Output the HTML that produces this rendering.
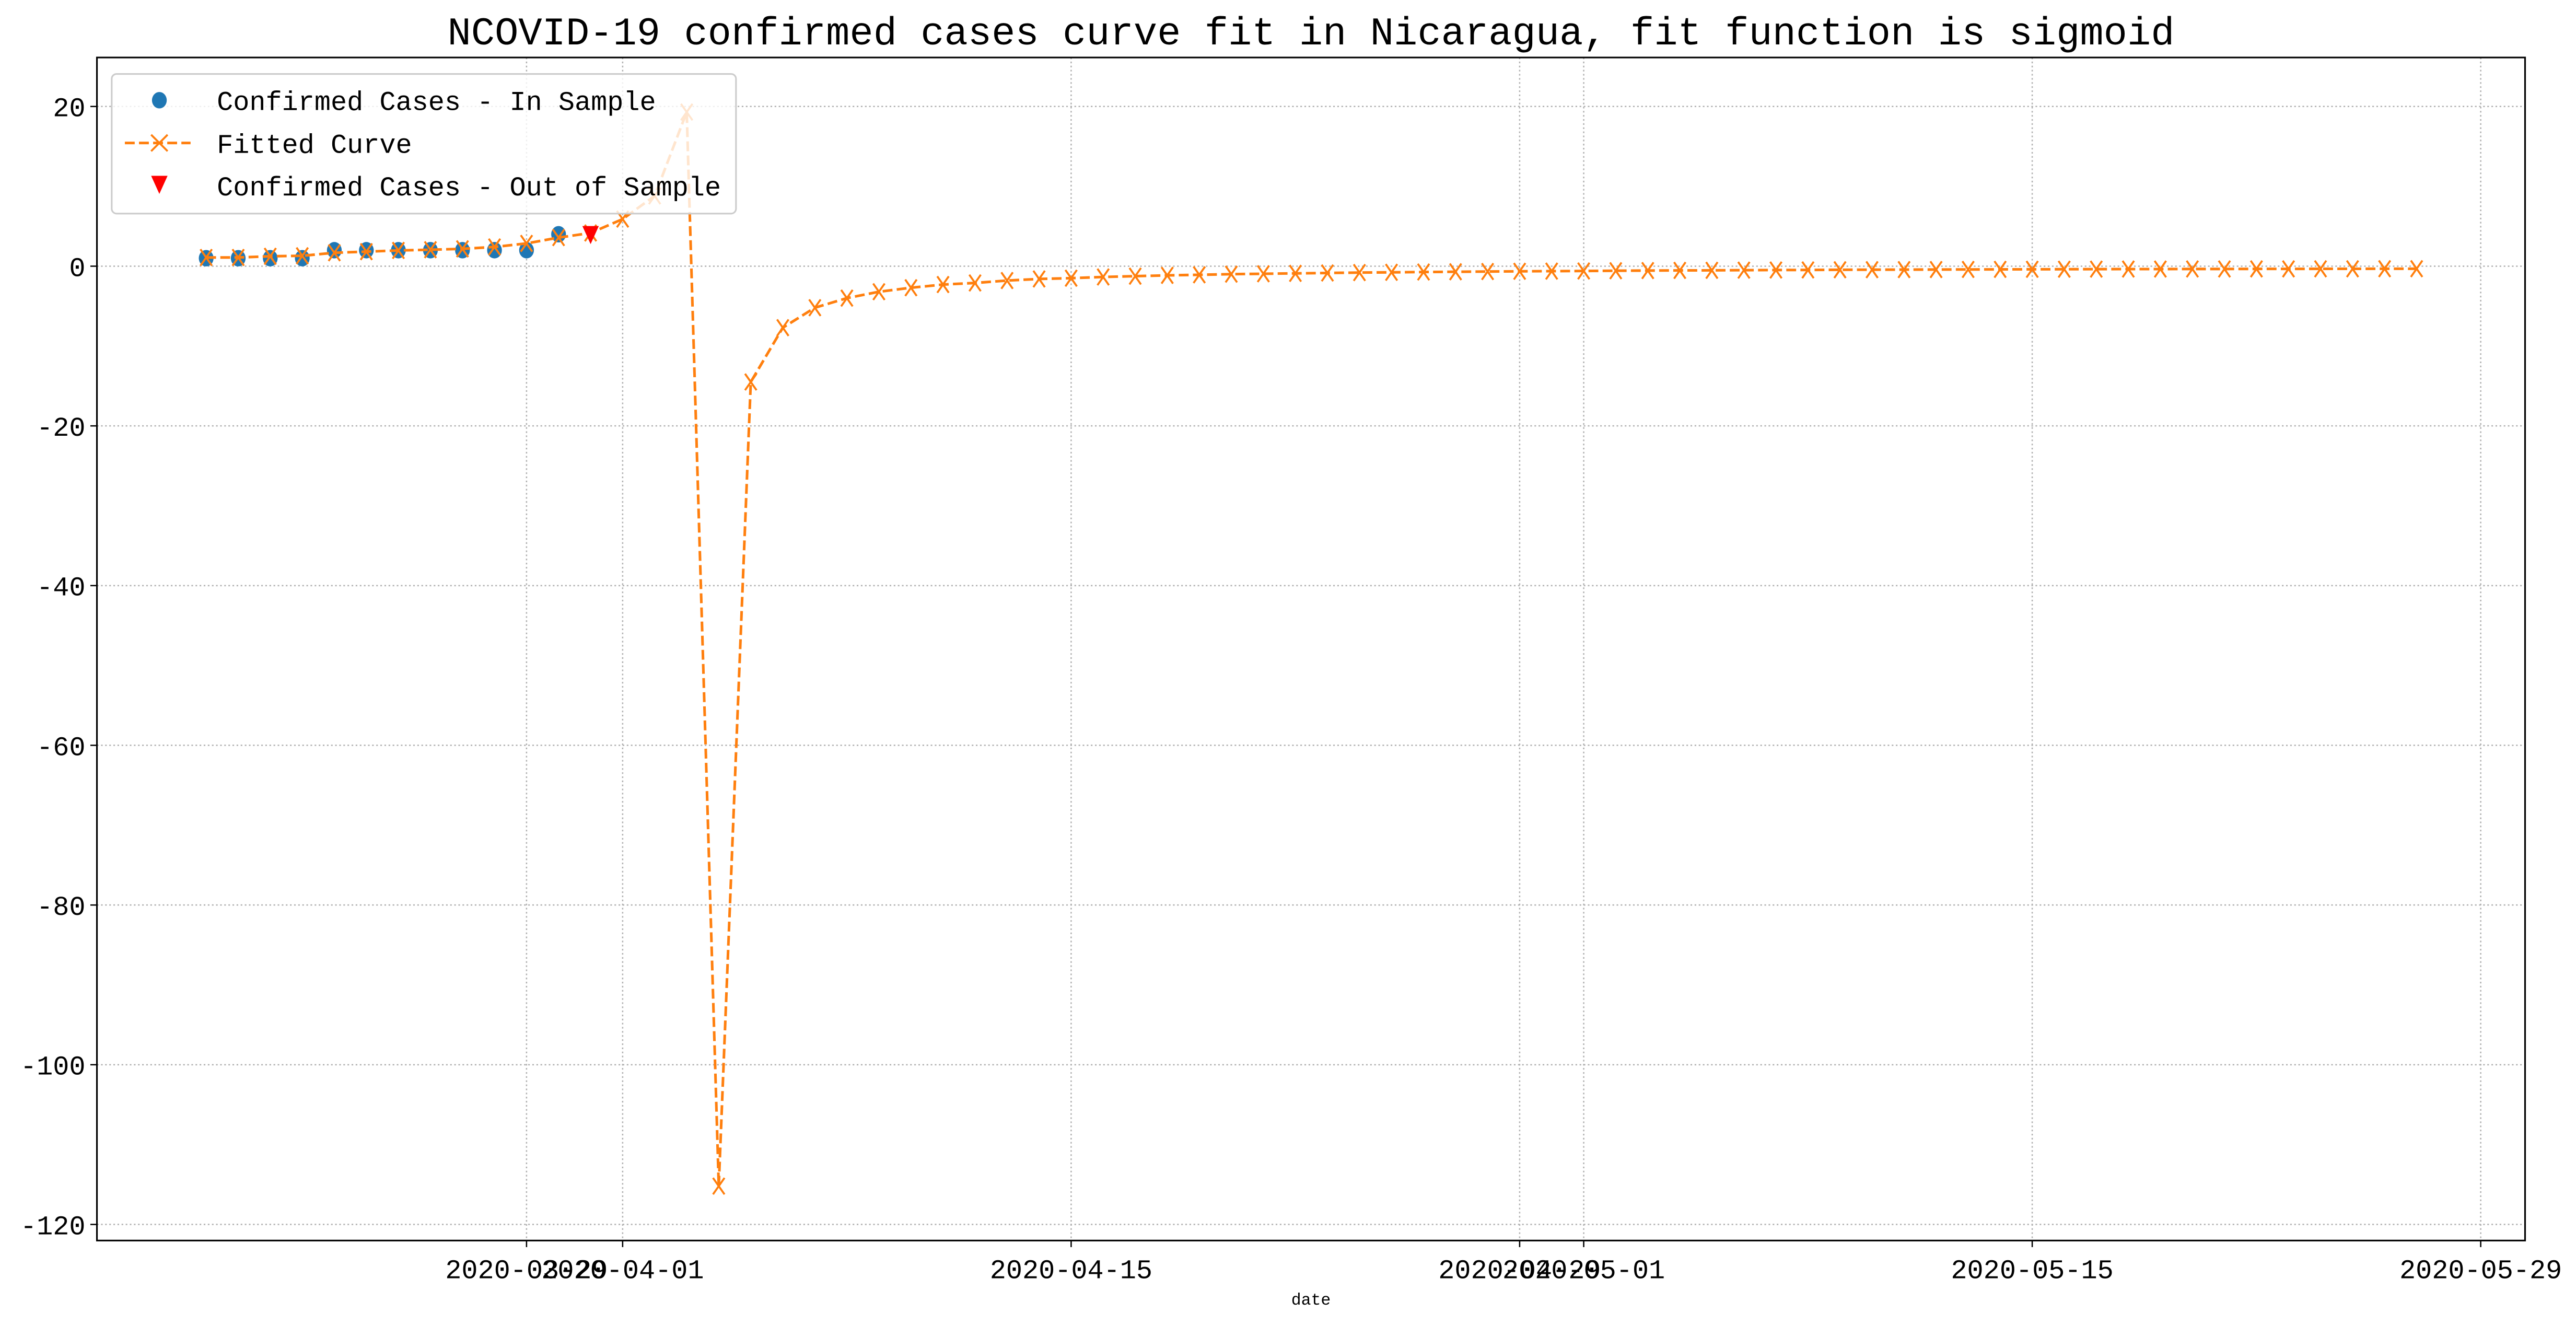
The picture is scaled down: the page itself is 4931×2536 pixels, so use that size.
<!DOCTYPE html>
<html><head><meta charset="utf-8"><style>
html,body{margin:0;padding:0;background:#fff;}
svg{display:block;}
text{font-family:"Liberation Mono","Noto Sans CJK SC",monospace;fill:#000;}
</style></head><body>
<svg id="chart" width="4931" height="2536" viewBox="0 0 1568 806.4" preserveAspectRatio="none" xmlns="http://www.w3.org/2000/svg">
<rect x="0" y="0" width="1568" height="806.4" fill="#fff"/>
<text x="798" y="27" text-anchor="middle" font-size="24">NCOVID-19 confirmed cases curve fit in Nicaragua, fit function is sigmoid</text>
<g id="grid"></g>
<g id="series"></g>
<rect x="59" y="35" width="1478" height="720" fill="none" stroke="#000" stroke-width="1"/>
<g id="axes"></g>
<text x="798" y="794" text-anchor="middle" font-size="10">date</text>
<g>
<rect x="68" y="45" width="380" height="85" rx="3" fill="#fff" fill-opacity="0.8" stroke="#cccccc" stroke-width="1"/>
<ellipse cx="97" cy="61" rx="4.5" ry="5" fill="#1f77b4"/>
<text x="132" y="67" font-size="16.5">Confirmed Cases - In Sample</text>
<line x1="76" y1="87" x2="116" y2="87" stroke="#ff7f0e" stroke-width="1.6" stroke-dasharray="6,2.6"/>
<path d="M92,82 L102,92 M92,92 L102,82" stroke="#ff7f0e" stroke-width="1.2"/>
<text x="132" y="93" font-size="16.5">Fitted Curve</text>
<path d="M92,107 L102,107 L97,118 Z" fill="#ff0000"/>
<text x="132" y="119" font-size="16.5">Confirmed Cases - Out of Sample</text>
</g>
</svg>
<script>
const inSampleValues = [1,1,1,1,2,2,2,2,2,2,2,4];
const outSampleValues = [4];
const fittedValues = [1.09,1.09,1.24,1.3,1.68,1.82,1.97,2.06,2.17,2.41,2.85,3.58,4.16,5.9,8.8,19.3,-115.2,-14.5,-7.7,-5.2,-4.0,-3.2,-2.7,-2.3,-2.1,-1.8,-1.6,-1.5,-1.35,-1.25,
-1.15,-1.08,-1.0,-0.95,-0.9,-0.85,-0.8,-0.77,-0.73,-0.7,-0.67,-0.64,-0.62,-0.6,-0.57,-0.55,-0.53,-0.52,-0.5,-0.48,
-0.47,-0.45,-0.44,-0.43,-0.42,-0.41,-0.4,-0.39,-0.38,-0.37,-0.36,-0.36,-0.35,-0.35,-0.34,-0.34,-0.33,-0.33,-0.32,-0.32];
const startDayOffset = -13; // first date 2020-03-19 relative to 2020-04-01
const outSampleOffset = -1;
const yTicks = [20,0,-20,-40,-60,-80,-100,-120];
const xTickDays = [-3,0,14,28,30,44,58];
const xTickLabels = ["2020-03-29","2020-04-01","2020-04-15","2020-04-29","2020-05-01","2020-05-15","2020-05-29"];

const NS = "http://www.w3.org/2000/svg";
function X(d){ return 379 + d*19.5; }
function Y(v){ return 162 - v*4.86; }
function mk(tag, attrs, parent){ const e=document.createElementNS(NS,tag); for(const k in attrs) e.setAttribute(k,attrs[k]); parent.appendChild(e); return e; }
const grid=document.getElementById('grid'), axes=document.getElementById('axes'), series=document.getElementById('series');

yTicks.forEach((t)=>{
  const y=Y(t);
  const g=mk('line',{x1:59,x2:1537,y1:y,y2:y,stroke:'#b0b0b0','stroke-width':0.8,'stroke-dasharray':'1,1.5'},grid);
  
  
  const tk=mk('line',{x1:55,x2:59,y1:y,y2:y,stroke:'#000','stroke-width':0.8},axes);
  
  
  const tx=mk('text',{x:52,y:y+6,'text-anchor':'end','font-size':16.5},axes);
  tx.textContent=t;
  
  
});
xTickDays.forEach((d,i)=>{
  const x=X(d);
  const g=mk('line',{x1:x,x2:x,y1:35,y2:755,stroke:'#b0b0b0','stroke-width':0.8,'stroke-dasharray':'1,1.5'},grid);
  
  
  const tk=mk('line',{x1:x,x2:x,y1:755,y2:759,stroke:'#000','stroke-width':0.8},axes);
  
  
  const tx=mk('text',{x:x,y:778,'text-anchor':'middle','font-size':16.5},axes);
  tx.textContent=xTickLabels[i];
  
  
});

inSampleValues.forEach((v,i)=>{
  const c=mk('ellipse',{cx:X(startDayOffset+i),cy:Y(v),rx:4.5,ry:5,fill:'#1f77b4'},series);
  
  
});
const pts=fittedValues.map((v,i)=>X(startDayOffset+i)+','+Y(v)).join(' ');
const pl=mk('polyline',{points:pts,fill:'none',stroke:'#ff7f0e','stroke-width':1.6,'stroke-dasharray':'6,2.6'},series);


fittedValues.forEach((v,i)=>{
  const x=X(startDayOffset+i), y=Y(v);
  const p=mk('path',{d:`M${x-3.5},${y-5} L${x+3.5},${y+5} M${x-3.5},${y+5} L${x+3.5},${y-5}`,stroke:'#ff7f0e','stroke-width':1.2,fill:'none'},series);
  
  
});
outSampleValues.forEach((v,i)=>{
  const x=X(outSampleOffset+i), y=Y(v);
  const p=mk('path',{d:`M${x-5},${y-5} L${x+5},${y-5} L${x},${y+6} Z`,fill:'#ff0000'},series);
  
  
});
</script>
</body></html>
